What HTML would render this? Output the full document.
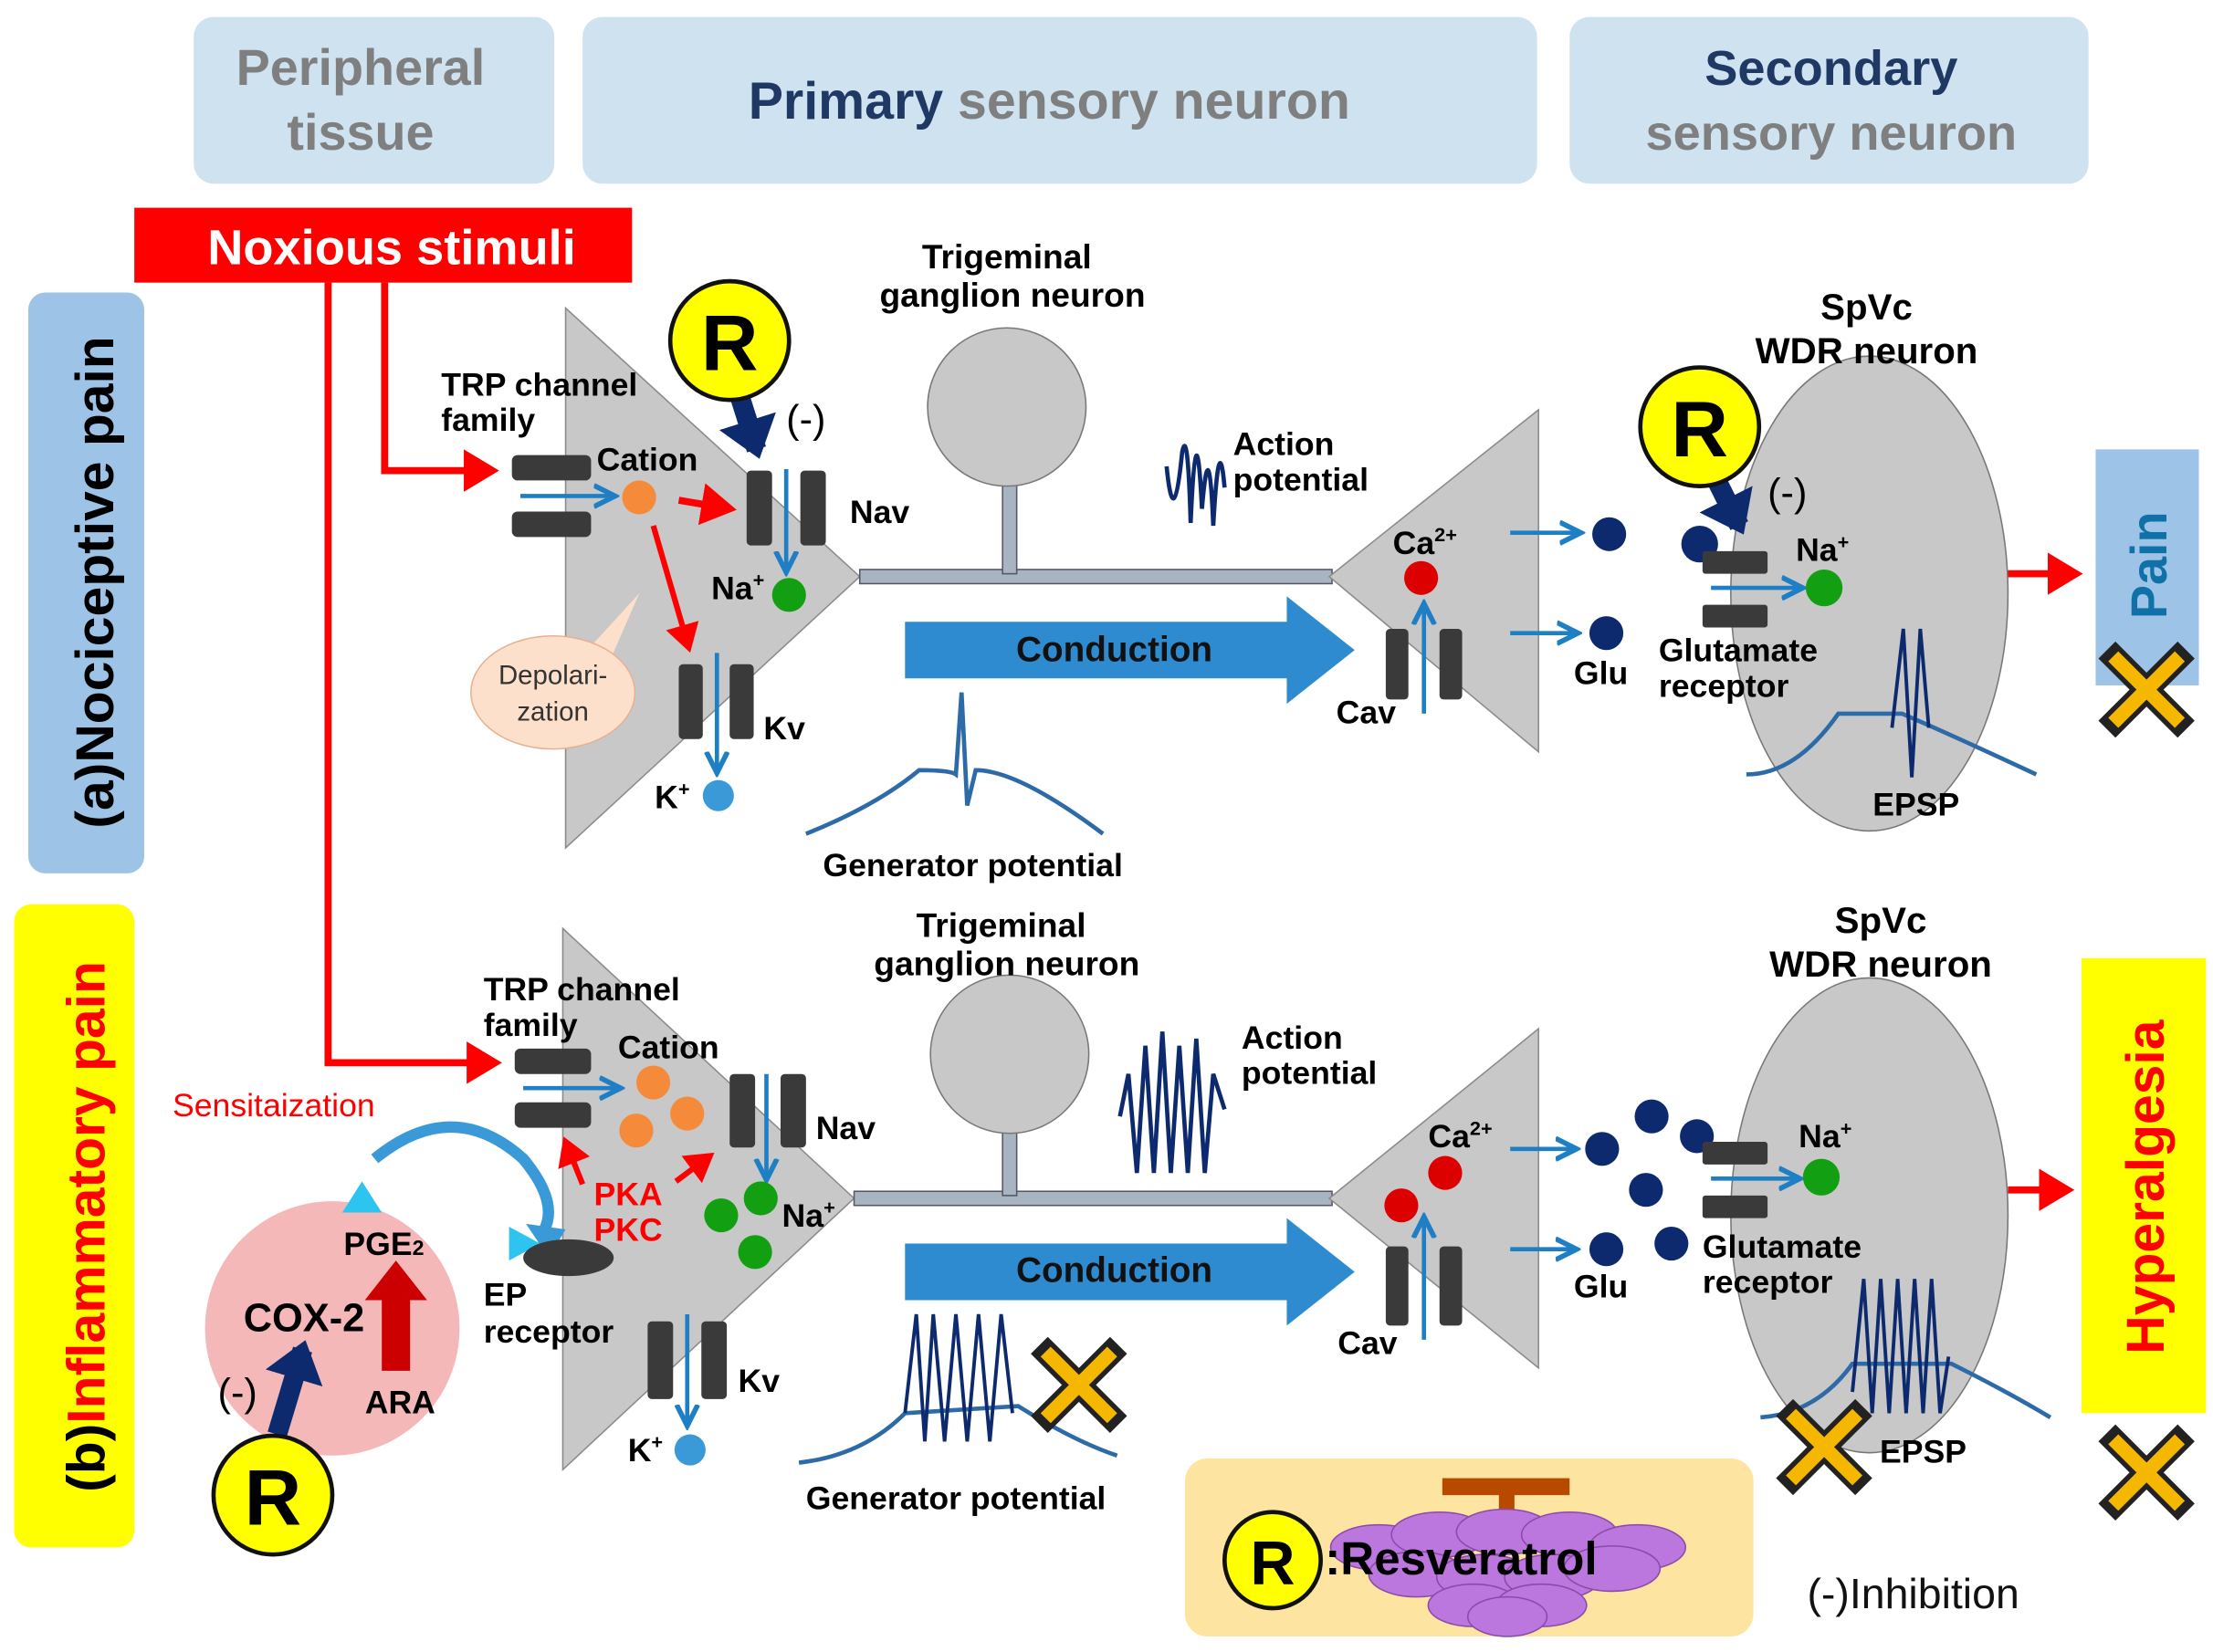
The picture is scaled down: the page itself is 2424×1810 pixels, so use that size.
<!DOCTYPE html>
<html><head><meta charset="utf-8"><style>
html,body{margin:0;padding:0;background:#fff}
svg{display:block}
text{font-family:"Liberation Sans",Arial,sans-serif;font-weight:bold}
text.n{font-weight:normal}
</style></head><body>
<svg width="2424" height="1810" viewBox="0 0 1565 1169" preserveAspectRatio="none" xmlns="http://www.w3.org/2000/svg">
<defs>
<marker id="ar" markerWidth="6" markerHeight="6" refX="4" refY="3" orient="auto" markerUnits="strokeWidth"><path d="M0,0 L5,3 L0,6 z" fill="#ff0000"/></marker>
<marker id="ab" markerWidth="6" markerHeight="6" refX="4" refY="3" orient="auto" markerUnits="strokeWidth"><path d="M0,0.5 L5,3 L0,5.5" fill="none" stroke="#1f7fc4" stroke-width="1.2"/></marker>
<marker id="an" markerWidth="3" markerHeight="3" refX="1.5" refY="1.5" orient="auto" markerUnits="strokeWidth"><path d="M0,0 L2,1.5 L0,3 z" fill="#0d2a6e"/></marker>
<g id="xm"><path d="M-22,-22 L22,22 M22,-22 L-22,22" stroke="#222" stroke-width="17" stroke-linecap="square"/><path d="M-20,-20 L20,20 M20,-20 L-20,20" stroke="#f5b700" stroke-width="10" stroke-linecap="square"/></g>
</defs>

<rect x="137" y="12" width="255" height="118" rx="14" fill="#cfe2f0"/>
<text x="255" y="60" font-size="36" fill="#7f7f7f" text-anchor="middle">Peripheral</text>
<text x="255" y="106" font-size="36" fill="#7f7f7f" text-anchor="middle">tissue</text>
<rect x="412" y="12" width="675" height="118" rx="14" fill="#cfe2f0"/>
<text x="742" y="84" font-size="37" text-anchor="middle"><tspan fill="#1f3864">Primary </tspan><tspan fill="#7f7f7f">sensory neuron</tspan></text>
<rect x="1110" y="12" width="367" height="118" rx="14" fill="#cfe2f0"/>
<text x="1295" y="60" font-size="35" fill="#1f3864" text-anchor="middle">Secondary</text>
<text x="1295" y="106" font-size="35" fill="#7f7f7f" text-anchor="middle">sensory neuron</text>

<rect x="20" y="207" width="82" height="411" rx="12" fill="#9dc3e6"/>
<text transform="translate(80,412) rotate(-90)" font-size="38" fill="#000" text-anchor="middle">(a)Nociceptive pain</text>
<rect x="10" y="640" width="85" height="455" rx="12" fill="#ffff00"/>
<text transform="translate(74,868) rotate(-90)" font-size="38" text-anchor="middle"><tspan fill="#000">(b)</tspan><tspan fill="#ff0000">Inflammatory pain</tspan></text>

<rect x="95" y="147" width="352" height="53" fill="#ff0000"/>
<text x="277" y="187" font-size="35" fill="#fff" text-anchor="middle">Noxious stimuli</text>
<path d="M232,200 L232,752 L350,752" stroke="#ff0000" stroke-width="5" fill="none" marker-end="url(#ar)"/>
<path d="M272,200 L272,333 L348,333" stroke="#ff0000" stroke-width="5" fill="none" marker-end="url(#ar)"/>

<polygon points="400,218 608,408 400,600" fill="#c8c8c8" stroke="#8a8a8a"/>
<rect x="608" y="403" width="334" height="10" fill="#a9b4c2" stroke="#556" stroke-width="1"/>
<rect x="709" y="340" width="10" height="66" fill="#a9b4c2" stroke="#556" stroke-width="1"/>
<circle cx="712" cy="288" r="56" fill="#c8c8c8" stroke="#777"/>
<text x="712" y="190" font-size="24" text-anchor="middle">Trigeminal</text>
<text x="716" y="217" font-size="24" text-anchor="middle">ganglion neuron</text>
<polygon points="940,408 1088,290 1088,532" fill="#c8c8c8" stroke="#8a8a8a"/>
<ellipse cx="1322" cy="420" rx="98" ry="168" fill="#c8c8c8" stroke="#777"/>
<polygon points="640,440 910,440 910,422 958,460 910,498 910,480 640,480" fill="#2e8bd0"/>
<text x="788" y="468" font-size="25" fill="#111" text-anchor="middle">Conduction</text>

<text x="312" y="280" font-size="23">TRP channel</text>
<text x="312" y="305" font-size="23">family</text>
<rect x="362" y="322" width="56" height="18" rx="4" fill="#3a3a3a"/>
<rect x="362" y="362" width="56" height="18" rx="4" fill="#3a3a3a"/>
<path d="M368,351 L432,351" stroke="#1f7fc4" stroke-width="3" marker-end="url(#ab)"/>
<circle cx="452" cy="352" r="12" fill="#f58a3a"/>
<text x="422" y="333" font-size="23">Cation</text>
<path d="M480,354 L516,360" stroke="#ff0000" stroke-width="5" marker-end="url(#ar)"/>
<path d="M462,372 L487,458" stroke="#ff0000" stroke-width="4" marker-end="url(#ar)"/>
<rect x="528" y="333" width="18" height="53" rx="3" fill="#3a3a3a"/>
<rect x="566" y="333" width="18" height="53" rx="3" fill="#3a3a3a"/>
<path d="M556,332 L556,402" stroke="#1f7fc4" stroke-width="3" marker-end="url(#ab)"/>
<text x="601" y="370" font-size="23">Nav</text>
<text x="503" y="424" font-size="23">Na<tspan font-size="14" dy="-9">+</tspan></text>
<circle cx="558" cy="421" r="12" fill="#12a012"/>
<rect x="480" y="470" width="17" height="53" rx="3" fill="#3a3a3a"/>
<rect x="516" y="470" width="17" height="53" rx="3" fill="#3a3a3a"/>
<path d="M507,462 L507,544" stroke="#1f7fc4" stroke-width="3" marker-end="url(#ab)"/>
<text x="540" y="523" font-size="23">Kv</text>
<circle cx="508" cy="563" r="11" fill="#3a9ad8"/>
<text x="463" y="572" font-size="23">K<tspan font-size="14" dy="-9">+</tspan></text>
<path d="M420,455 L452,420 L432,466 Z" fill="#fde0cc"/>
<ellipse cx="391" cy="490" rx="58" ry="40" fill="#fde0cc" stroke="#e8b090"/>
<text class="n" x="391" y="484" font-size="19" fill="#333" text-anchor="middle">Depolari-</text>
<text class="n" x="391" y="510" font-size="19" fill="#333" text-anchor="middle">zation</text>
<path d="M523,280 L535,318" stroke="#0d2a6e" stroke-width="14" marker-end="url(#an)"/>
<circle cx="516" cy="241" r="42" fill="#ffff00" stroke="#111" stroke-width="3"/>
<text x="516" y="262" font-size="56" text-anchor="middle">R</text>
<text class="n" x="556" y="306" font-size="28">(-)</text>
<path d="M825,330 Q830,380 836,320 Q840,300 842,370 Q846,280 850,360 Q855,300 858,372 Q862,300 866,345" stroke="#0d2a6e" stroke-width="3" fill="none"/>
<text x="872" y="322" font-size="23">Action</text>
<text x="872" y="347" font-size="23">potential</text>
<path d="M570,590 Q620,570 650,545 Q672,545 676,548 L680,490 L684,570 L690,545 Q720,545 780,590" stroke="#2d6aa8" stroke-width="3" fill="none"/>
<text x="688" y="620" font-size="23" text-anchor="middle">Generator potential</text>
<text x="985" y="392" font-size="23">Ca<tspan font-size="14" dy="-9">2+</tspan></text>
<circle cx="1005" cy="409" r="12" fill="#dd0000"/>
<rect x="980" y="445" width="16" height="50" rx="3" fill="#3a3a3a"/>
<rect x="1018" y="445" width="16" height="50" rx="3" fill="#3a3a3a"/>
<path d="M1007,505 L1007,430" stroke="#1f7fc4" stroke-width="3" marker-end="url(#ab)"/>
<text x="945" y="512" font-size="23">Cav</text>
<path d="M1068,377 L1115,377" stroke="#1f7fc4" stroke-width="3" marker-end="url(#ab)"/>
<path d="M1068,448 L1113,448" stroke="#1f7fc4" stroke-width="3" marker-end="url(#ab)"/>
<circle cx="1138" cy="378" r="12" fill="#0d2a6e"/>
<circle cx="1136" cy="448" r="12" fill="#0d2a6e"/>
<text x="1113" y="484" font-size="23">Glu</text>
<circle cx="1202" cy="385" r="13" fill="#0d2a6e"/>
<rect x="1204" y="390" width="46" height="16" rx="2" fill="#3a3a3a"/>
<rect x="1204" y="428" width="46" height="16" rx="2" fill="#3a3a3a"/>
<path d="M1210,416 L1272,416" stroke="#1f7fc4" stroke-width="3" marker-end="url(#ab)"/>
<circle cx="1290" cy="416" r="13" fill="#12a012"/>
<text x="1270" y="397" font-size="23">Na<tspan font-size="14" dy="-9">+</tspan></text>
<text x="1173" y="468" font-size="23">Glutamate</text>
<text x="1173" y="493" font-size="23">receptor</text>
<path d="M1213,338 L1230,372" stroke="#0d2a6e" stroke-width="14" marker-end="url(#an)"/>
<circle cx="1202" cy="302" r="42" fill="#ffff00" stroke="#111" stroke-width="3"/>
<text x="1202" y="323" font-size="56" text-anchor="middle">R</text>
<text class="n" x="1250" y="358" font-size="28">(-)</text>
<text x="1320" y="226" font-size="26" text-anchor="middle">SpVc</text>
<text x="1320" y="257" font-size="26" text-anchor="middle">WDR neuron</text>
<path d="M1235,548 Q1270,548 1300,505 L1345,505 Q1380,520 1440,548" stroke="#2d6aa8" stroke-width="3" fill="none"/>
<path d="M1338,515 L1346,445 L1352,550 L1358,445 L1364,515" stroke="#0d2a6e" stroke-width="2.5" fill="none"/>
<text x="1355" y="577" font-size="23" text-anchor="middle">EPSP</text>
<path d="M1420,406 L1468,406" stroke="#ff0000" stroke-width="5" marker-end="url(#ar)"/>
<rect x="1482" y="318" width="73" height="167" fill="#9dc3e6"/>
<text transform="translate(1532,400) rotate(-90)" font-size="36" fill="#1070a8" text-anchor="middle">Pain</text>
<use href="#xm" x="1518" y="488"/>

<polygon points="398,657 604,848 398,1040" fill="#c8c8c8" stroke="#8a8a8a"/>
<rect x="604" y="843" width="338" height="10" fill="#a9b4c2" stroke="#556" stroke-width="1"/>
<rect x="709" y="800" width="10" height="46" fill="#a9b4c2" stroke="#556" stroke-width="1"/>
<circle cx="714" cy="746" r="56" fill="#c8c8c8" stroke="#777"/>
<text x="708" y="663" font-size="24" text-anchor="middle">Trigeminal</text>
<text x="712" y="690" font-size="24" text-anchor="middle">ganglion neuron</text>
<polygon points="940,848 1088,728 1088,968" fill="#c8c8c8" stroke="#8a8a8a"/>
<ellipse cx="1322" cy="860" rx="98" ry="168" fill="#c8c8c8" stroke="#777"/>
<polygon points="640,880 910,880 910,862 958,900 910,938 910,920 640,920" fill="#2e8bd0"/>
<text x="788" y="907" font-size="25" fill="#111" text-anchor="middle">Conduction</text>

<text x="342" y="708" font-size="23">TRP channel</text>
<text x="342" y="733" font-size="23">family</text>
<rect x="364" y="742" width="54" height="18" rx="4" fill="#3a3a3a"/>
<rect x="364" y="780" width="54" height="18" rx="4" fill="#3a3a3a"/>
<path d="M370,770 L436,770" stroke="#1f7fc4" stroke-width="3" marker-end="url(#ab)"/>
<text x="437" y="749" font-size="23">Cation</text>
<circle cx="462" cy="766" r="12" fill="#f58a3a"/>
<circle cx="450" cy="800" r="12" fill="#f58a3a"/>
<circle cx="486" cy="788" r="12" fill="#f58a3a"/>
<rect x="516" y="760" width="18" height="52" rx="3" fill="#3a3a3a"/>
<rect x="552" y="760" width="18" height="52" rx="3" fill="#3a3a3a"/>
<path d="M542,760 L542,832" stroke="#1f7fc4" stroke-width="3" marker-end="url(#ab)"/>
<text x="577" y="806" font-size="23">Nav</text>
<circle cx="510" cy="860" r="12" fill="#12a012"/>
<circle cx="538" cy="848" r="12" fill="#12a012"/>
<circle cx="534" cy="886" r="12" fill="#12a012"/>
<text x="553" y="868" font-size="23">Na<tspan font-size="14" dy="-9">+</tspan></text>
<text x="420" y="853" font-size="23" fill="#ff0000">PKA</text>
<text x="420" y="878" font-size="23" fill="#ff0000">PKC</text>
<path d="M412,838 L400,808" stroke="#ff0000" stroke-width="4" marker-end="url(#ar)"/>
<path d="M478,836 L502,818" stroke="#ff0000" stroke-width="4" marker-end="url(#ar)"/>
<rect x="458" y="935" width="18" height="55" rx="3" fill="#3a3a3a"/>
<rect x="496" y="935" width="18" height="55" rx="3" fill="#3a3a3a"/>
<path d="M486,930 L486,1006" stroke="#1f7fc4" stroke-width="3" marker-end="url(#ab)"/>
<text x="522" y="985" font-size="23">Kv</text>
<circle cx="488" cy="1026" r="11" fill="#3a9ad8"/>
<text x="444" y="1034" font-size="23">K<tspan font-size="14" dy="-9">+</tspan></text>
<circle cx="235" cy="940" r="90" fill="#f4b8b8"/>
<text class="n" x="122" y="790" font-size="23" fill="#ff0000">Sensitaization</text>
<path d="M265,820 Q320,775 370,820 Q395,850 385,870" stroke="#3a9ad8" stroke-width="8" fill="none"/>
<polygon points="372,866 400,870 388,890" fill="#3a9ad8"/>
<polygon points="242,858 256,836 270,858" fill="#2ec4f0"/>
<polygon points="360,868 382,880 360,892" fill="#2ec4f0"/>
<ellipse cx="402" cy="890" rx="32" ry="13" fill="#3a3a3a"/>
<text x="342" y="924" font-size="23">EP</text>
<text x="342" y="950" font-size="23">receptor</text>
<text x="243" y="888" font-size="23">PGE<tspan font-size="15">2</tspan></text>
<polygon points="270,970 270,920 258,920 280,892 302,920 290,920 290,970" fill="#cc0000"/>
<text x="283" y="1000" font-size="23" text-anchor="middle">ARA</text>
<text x="215" y="942" font-size="28" text-anchor="middle">COX-2</text>
<path d="M196,1015 L214,955" stroke="#0d2a6e" stroke-width="14" marker-end="url(#an)"/>
<text class="n" x="154" y="995" font-size="28">(-)</text>
<circle cx="193" cy="1058" r="42" fill="#ffff00" stroke="#111" stroke-width="3"/>
<text x="193" y="1079" font-size="56" text-anchor="middle">R</text>
<path d="M792,790 L798,760 L804,830 L810,740 L816,830 L822,730 L828,830 L834,740 L840,830 L846,735 L852,830 L858,760 L866,785" stroke="#0d2a6e" stroke-width="3" fill="none"/>
<text x="878" y="742" font-size="23">Action</text>
<text x="878" y="767" font-size="23">potential</text>
<path d="M565,1035 Q610,1030 640,1000 L720,995 Q760,1020 790,1030" stroke="#2d6aa8" stroke-width="3" fill="none"/>
<path d="M640,1000 L648,930 L654,1020 L660,930 L668,1020 L676,930 L684,1020 L692,930 L700,1020 L708,930 L716,1000" stroke="#0d2a6e" stroke-width="2.5" fill="none"/>
<text x="676" y="1068" font-size="23" text-anchor="middle">Generator potential</text>
<use href="#xm" x="763" y="980"/>
<text x="1010" y="812" font-size="23">Ca<tspan font-size="14" dy="-9">2+</tspan></text>
<circle cx="1022" cy="830" r="12" fill="#dd0000"/>
<circle cx="991" cy="853" r="12" fill="#dd0000"/>
<rect x="980" y="882" width="16" height="56" rx="3" fill="#3a3a3a"/>
<rect x="1018" y="882" width="16" height="56" rx="3" fill="#3a3a3a"/>
<path d="M1007,948 L1007,864" stroke="#1f7fc4" stroke-width="3" marker-end="url(#ab)"/>
<text x="946" y="958" font-size="23">Cav</text>
<path d="M1068,813 L1112,813" stroke="#1f7fc4" stroke-width="3" marker-end="url(#ab)"/>
<path d="M1068,884 L1112,884" stroke="#1f7fc4" stroke-width="3" marker-end="url(#ab)"/>
<circle cx="1133" cy="813" r="12" fill="#0d2a6e"/>
<circle cx="1168" cy="790" r="12" fill="#0d2a6e"/>
<circle cx="1200" cy="804" r="12" fill="#0d2a6e"/>
<circle cx="1164" cy="842" r="12" fill="#0d2a6e"/>
<circle cx="1182" cy="880" r="12" fill="#0d2a6e"/>
<circle cx="1136" cy="884" r="12" fill="#0d2a6e"/>
<text x="1113" y="918" font-size="23">Glu</text>
<rect x="1204" y="808" width="46" height="16" rx="2" fill="#3a3a3a"/>
<rect x="1204" y="846" width="46" height="16" rx="2" fill="#3a3a3a"/>
<path d="M1210,834 L1270,834" stroke="#1f7fc4" stroke-width="3" marker-end="url(#ab)"/>
<circle cx="1288" cy="833" r="13" fill="#12a012"/>
<text x="1272" y="812" font-size="23">Na<tspan font-size="14" dy="-9">+</tspan></text>
<text x="1204" y="890" font-size="23">Glutamate</text>
<text x="1204" y="915" font-size="23">receptor</text>
<text x="1330" y="660" font-size="26" text-anchor="middle">SpVc</text>
<text x="1330" y="691" font-size="26" text-anchor="middle">WDR neuron</text>
<path d="M1245,1003 Q1285,1000 1310,965 L1380,965 Q1420,985 1450,1003" stroke="#2d6aa8" stroke-width="3" fill="none"/>
<path d="M1310,985 L1318,905 L1324,1000 L1330,905 L1336,1000 L1342,905 L1348,1000 L1354,905 L1360,1000 L1366,905 L1372,1000 L1378,960" stroke="#0d2a6e" stroke-width="2.5" fill="none"/>
<text x="1360" y="1035" font-size="23" text-anchor="middle">EPSP</text>
<use href="#xm" x="1290" y="1024"/>
<path d="M1420,842 L1462,842" stroke="#ff0000" stroke-width="5" marker-end="url(#ar)"/>
<rect x="1472" y="678" width="88" height="322" fill="#ffff00"/>
<text transform="translate(1530,840) rotate(-90)" font-size="38" fill="#ff0000" text-anchor="middle">Hyperalgesia</text>
<use href="#xm" x="1518" y="1042"/>

<rect x="838" y="1032" width="402" height="126" rx="16" fill="#fde4a0"/>
<rect x="1020" y="1046" width="90" height="12" fill="#b84a00"/>
<rect x="1060" y="1056" width="11" height="22" fill="#b84a00"/>
<g fill="#bb77dd" stroke="#8a4aaa" stroke-width="1">
<ellipse cx="975" cy="1095" rx="34" ry="16"/><ellipse cx="1018" cy="1086" rx="34" ry="16"/><ellipse cx="1064" cy="1084" rx="34" ry="16"/><ellipse cx="1110" cy="1086" rx="34" ry="16"/><ellipse cx="1158" cy="1095" rx="34" ry="16"/>
<ellipse cx="1002" cy="1114" rx="34" ry="16"/><ellipse cx="1050" cy="1116" rx="34" ry="16"/><ellipse cx="1098" cy="1116" rx="34" ry="16"/><ellipse cx="1140" cy="1110" rx="34" ry="16"/>
<ellipse cx="1042" cy="1136" rx="32" ry="15"/><ellipse cx="1090" cy="1136" rx="32" ry="15"/><ellipse cx="1066" cy="1144" rx="28" ry="14"/>
</g>
<circle cx="900" cy="1104" r="34" fill="#ffff00" stroke="#111" stroke-width="3"/>
<text x="900" y="1121" font-size="44" text-anchor="middle">R</text>
<text x="937" y="1114" font-size="33">:Resveratrol</text>
<text class="n" x="1278" y="1138" font-size="30" fill="#111">(-)Inhibition</text>
</svg>
</body></html>
